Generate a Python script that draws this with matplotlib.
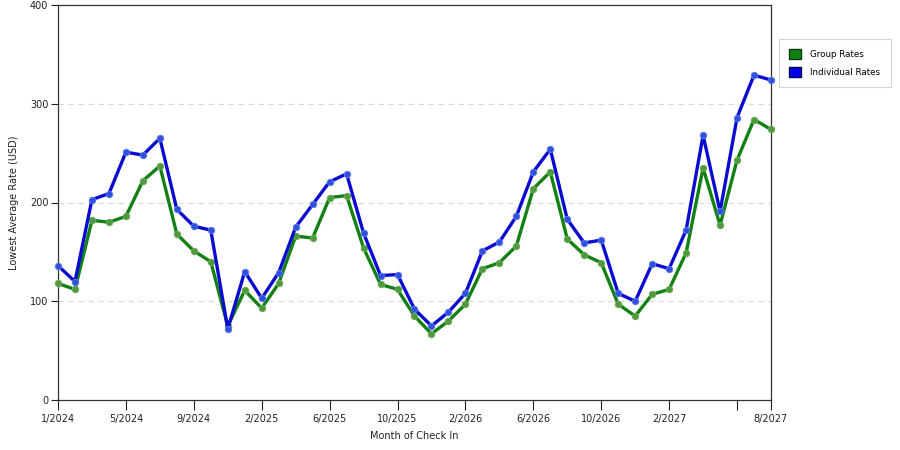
import matplotlib
matplotlib.use("Agg")
import matplotlib.pyplot as plt
from matplotlib.patches import Patch

# lowest average rate per month of check in (USD)
group_rates = [118, 112, 182, 180, 186, 222, 237, 168, 151, 140,
               75, 111, 93, 118, 166, 164, 205, 207, 154, 117,
               112, 85, 67, 80, 97, 133, 139, 156, 214, 231,
               163, 147, 139, 97, 85, 107, 112, 149, 235, 177,
               243, 284, 274]
individual_rates = [136, 120, 203, 209, 251, 248, 265, 193, 176, 172,
                    72, 130, 103, 129, 175, 198, 221, 229, 169, 126,
                    127, 92, 75, 89, 108, 151, 160, 186, 231, 254,
                    183, 159, 162, 108, 100, 138, 133, 172, 268, 191,
                    286, 329, 324]

tick_pos = [0, 4, 8, 12, 16, 20, 24, 28, 32, 36, 40, 42]
tick_labels = ['1/2024', '5/2024', '9/2024', '2/2025', '6/2025', '10/2025',
               '2/2026', '6/2026', '10/2026', '2/2027', '', '8/2027']

green = '#138013'
blue = '#0a0ad0'

fig = plt.figure(figsize=(9, 4.5), dpi=100)
ax = fig.add_axes([58 / 900, 50 / 450, 713 / 900, 395 / 450])

x = list(range(len(group_rates)))
ax.plot(x, group_rates, color=green, lw=2.4, marker='o', ms=4.6,
        mfc='#4d9a3a', mec='#6aa85a', mew=0.7, zorder=3, clip_on=False)
ax.plot(x, individual_rates, color=blue, lw=2.4, marker='o', ms=4.6,
        mfc='#2f4fe0', mec='#5a78e8', mew=0.7, zorder=4, clip_on=False)

ax.set_xlim(0, 42)
ax.set_ylim(0, 400)
ax.set_yticks([0, 100, 200, 300, 400])
ax.set_xticks(tick_pos)
ax.set_xticklabels(tick_labels)
for y in [100, 200, 300]:
    ax.axhline(y, color='#d8d8d8', lw=0.8, ls=(0, (5, 4)), zorder=1)

ax.tick_params(axis='both', labelsize=7, colors='#222222', length=7, width=0.8)
ax.tick_params(axis='x', pad=3)
ax.tick_params(axis='y', pad=2, length=5)
for s in ax.spines.values():
    s.set_color('#333333')
    s.set_linewidth(0.9)

ax.set_ylabel('Lowest Average Rate (USD)', fontsize=7, color='#222222', labelpad=8)
ax.set_xlabel('Month of Check In', fontsize=7, color='#222222', labelpad=5)

handles = [Patch(facecolor=green, edgecolor='#0a3a0a', label='Group Rates'),
           Patch(facecolor='#0000ee', edgecolor='#00004a', label='Individual Rates')]
leg = fig.legend(handles=handles, loc='upper left', bbox_to_anchor=(779 / 900, 1 - 39 / 450),
                 borderaxespad=0, fontsize=6.3, frameon=True, fancybox=False,
                 handlelength=1.35, handleheight=1.35, borderpad=1.15, labelspacing=0.95,
                 handletextpad=1.1)
leg.get_frame().set_edgecolor('#cccccc')
leg.get_frame().set_linewidth(0.8)

fig.savefig('out.png', dpi=100)
